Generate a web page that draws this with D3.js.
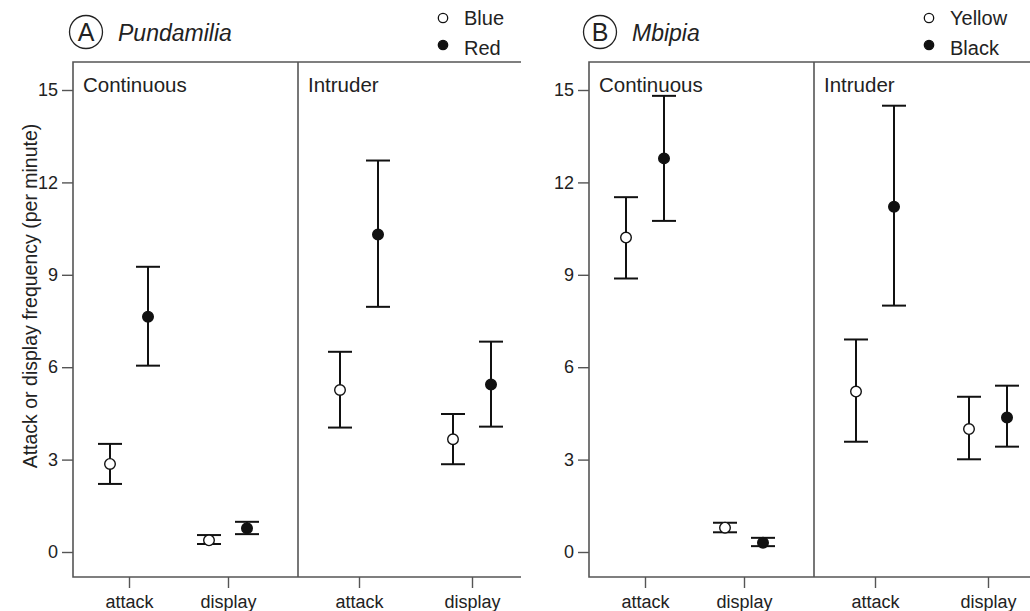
<!DOCTYPE html>
<html>
<head>
<meta charset="utf-8">
<title>Attack and display frequency</title>
<script src="https://cdn.jsdelivr.net/npm/d3@7"></script>
<style>
  body { margin: 0; background: #fff; }
  svg { display: block; font-family: "Liberation Sans", Arial, sans-serif; }
  .frame { fill: none; stroke: #555; stroke-width: 1.6; }
  .axis path, .axis line { stroke: #555; stroke-width: 1.4; }
  .axis text { font-size: 18px; fill: #222; }
</style>
</head>
<body>
<div id="chart"></div>
<script>
// categories
var letters = ['A', 'B'];
var species = ['Pundamilia', 'Mbipia'];
var conditions = ['Continuous', 'Intruder'];
var behaviours = ['attack', 'display'];
var morphs = [['Blue', 'Red'], ['Yellow', 'Black']];
var yTicks = [0, 3, 6, 9, 12, 15];

// values, ordered: condition > behaviour > morph (open, filled)
var pundMean = [2.86, 7.64, 0.38, 0.77, 5.26, 10.31, 3.66, 5.44];
var pundLow  = [2.21, 6.05, 0.26, 0.58, 4.04, 7.96, 2.85, 4.07];
var pundHigh = [3.51, 9.26, 0.55, 0.98, 6.50, 12.71, 4.48, 6.83];

var mbipMean = [10.21, 12.78, 0.79, 0.30, 5.21, 11.21, 3.99, 4.37];
var mbipLow  = [8.88, 10.75, 0.64, 0.19, 3.58, 8.00, 3.01, 3.42];
var mbipHigh = [11.52, 14.81, 0.95, 0.46, 6.90, 14.49, 5.04, 5.40];

var means = [pundMean, mbipMean], lows = [pundLow, mbipLow], highs = [pundHigh, mbipHigh];

var W = 1030, H = 611;
var svg = d3.select('#chart').append('svg').attr('width', W).attr('height', H);

var panelLeft = [73, 589];
var panelW = 448, subW = 225;
var frameTop = 62, frameBottom = 577;

var y = d3.scaleLinear().domain([0, 15]).range([552, 90]);

// category positions inside each facet
var xCond = [
  d3.scalePoint().domain(behaviours).range([56, 155]),
  d3.scalePoint().domain(behaviours).range([61, 174])
];
var dodge = d3.scalePoint().domain([0, 1]).range([-19, 19]);

// y axis title
svg.append('text')
  .attr('transform', 'translate(37,' + 296 + ') rotate(-90)')
  .attr('text-anchor', 'middle')
  .style('font-size', '19.5px')
  .attr('fill', '#222')
  .text('Attack or display frequency (per minute)');

species.forEach(function(sp, p) {
  var g = svg.append('g').attr('transform', 'translate(' + panelLeft[p] + ',0)');

  // y axis
  g.append('g').attr('class', 'axis')
    .call(d3.axisLeft(y).tickValues(yTicks).tickSize(11).tickPadding(4))
    .call(function(a) { a.select('.domain').remove(); });

  // frame
  g.append('path').attr('class', 'frame')
    .attr('d', 'M' + panelW + ',' + frameTop + 'H0V' + frameBottom + 'H' + panelW);
  g.append('line').attr('class', 'frame')
    .attr('x1', subW).attr('x2', subW).attr('y1', frameTop).attr('y2', frameBottom);

  // title
  g.append('circle').attr('cx', p === 0 ? 13 : 11).attr('cy', 32).attr('r', 16.5)
    .attr('fill', 'none').attr('stroke', '#222').attr('stroke-width', 1.3);
  g.append('text').attr('x', p === 0 ? 13 : 11).attr('y', 41).attr('text-anchor', 'middle')
    .style('font-size', '25px').attr('fill', '#222').text(letters[p]);
  g.append('text').attr('x', p === 0 ? 45 : 43).attr('y', 41)
    .style('font-size', '23px').style('font-style', 'italic').attr('fill', '#222').text(sp);

  // legend
  var lx = p === 0 ? 370 : 340;
  morphs[p].forEach(function(m, k) {
    g.append('circle').attr('cx', lx).attr('cy', 18 + k * 27).attr('r', 4.7)
      .attr('fill', k ? '#111' : '#fff').attr('stroke', '#111').attr('stroke-width', 1.3);
    g.append('text').attr('x', lx + 21).attr('y', 25 + k * 30)
      .style('font-size', '20px').attr('fill', '#222').text(m);
  });

  conditions.forEach(function(c, ci) {
    var fg = g.append('g').attr('transform', 'translate(' + (ci * subW) + ',0)');
    var xs = xCond[ci];

    fg.append('text').attr('x', 10).attr('y', 92)
      .style('font-size', '20.5px').attr('fill', '#222').text(c);

    fg.append('g').attr('class', 'axis')
      .attr('transform', 'translate(0,' + frameBottom + ')')
      .call(d3.axisBottom(xs).tickSize(11).tickPadding(7))
      .call(function(a) { a.select('.domain').remove(); });

    var pts = [];
    behaviours.forEach(function(b, bi) {
      [0, 1].forEach(function(k) {
        var i = ci * 4 + bi * 2 + k;
        pts.push({ b: b, k: k, m: means[p][i], lo: lows[p][i], hi: highs[p][i] });
      });
    });

    var e = fg.selectAll('.pt').data(pts).enter().append('g').attr('class', 'pt')
      .attr('transform', function(d) { return 'translate(' + (xs(d.b) + dodge(d.k)) + ',0)'; });

    e.append('line').attr('y1', function(d) { return y(d.lo); }).attr('y2', function(d) { return y(d.hi); })
      .attr('stroke', '#111').attr('stroke-width', 2);
    e.append('line').attr('x1', -12).attr('x2', 12)
      .attr('y1', function(d) { return y(d.lo); }).attr('y2', function(d) { return y(d.lo); })
      .attr('stroke', '#111').attr('stroke-width', 2);
    e.append('line').attr('x1', -12).attr('x2', 12)
      .attr('y1', function(d) { return y(d.hi); }).attr('y2', function(d) { return y(d.hi); })
      .attr('stroke', '#111').attr('stroke-width', 2);
    e.append('circle').attr('cy', function(d) { return y(d.m); }).attr('r', 5.3)
      .attr('fill', function(d) { return d.k ? '#111' : '#fff'; })
      .attr('stroke', '#111').attr('stroke-width', 1.4);
  });
});
</script>
</body>
</html>
